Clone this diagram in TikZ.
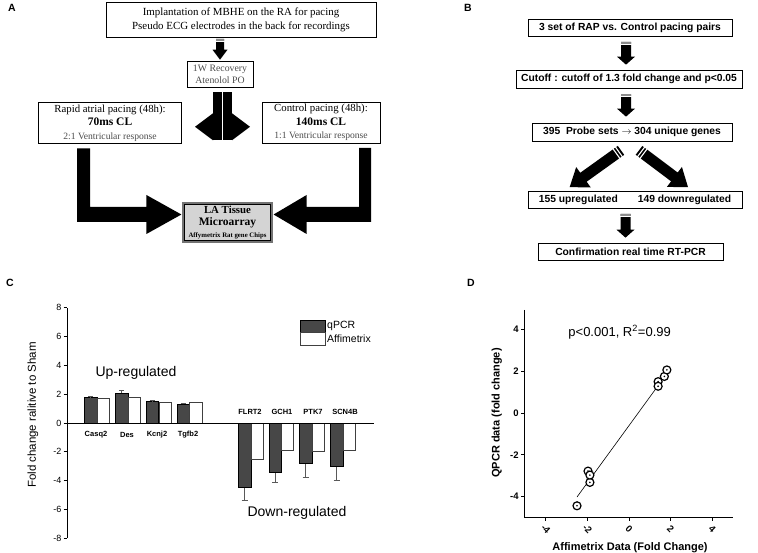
\documentclass[tikz,border=0pt]{standalone}
\usepackage{fontspec}
\setmainfont{Liberation Serif}
\setsansfont{Liberation Sans}
\usetikzlibrary{calc}
\newcommand{\blkarrow}[6]{%
  \coordinate (bk-b) at ($(#2)!#5!(#1)$);
  \coordinate (bk-s) at ($(#1)!2.6pt!(#2)$);
  \coordinate (bk-r) at ($(#1)!5.6pt!(#2)$);
  \fill ($(#1)!#3!90:(#2)$) -- ($(bk-b)!#3!90:(#2)$) -- ($(bk-b)!#4!90:(#2)$) -- (#2) -- ($(bk-b)!#4!-90:(#2)$) -- ($(bk-b)!#3!-90:(#2)$) -- ($(#1)!#3!-90:(#2)$) -- cycle;
  \ifnum#6=1
    \fill[black!45] ($(#1)!#3!90:(#2)$) -- ($(bk-s)!#3!90:(#2)$) -- ($(bk-s)!#3!-90:(#2)$) -- ($(#1)!#3!-90:(#2)$) -- cycle;
    \draw[white, line width=1pt] ($(bk-s)!#3+1pt!90:(#2)$) -- ($(bk-s)!#3+1pt!-90:(#2)$);
  \else
    \draw[white, line width=1.1pt] ($(bk-s)!#3+1pt!90:(#2)$) -- ($(bk-s)!#3+1pt!-90:(#2)$);
    \draw[white, line width=1.1pt] ($(bk-r)!#3+1pt!90:(#2)$) -- ($(bk-r)!#3+1pt!-90:(#2)$);
  \fi
}
\begin{document}
\begin{tikzpicture}[x=1pt,y=-1pt,
  abox/.style={draw, line width=0.6pt, fill=white, align=center, inner sep=0pt, font=\fontsize{10.9}{13.5}\selectfont},
  bbox/.style={draw, line width=0.7pt, align=center, inner sep=0pt, font=\sffamily\bfseries\fontsize{10.3}{12}\selectfont},
  plbl/.style={font=\sffamily\bfseries\fontsize{10.5}{12}\selectfont},
  qbar/.style={fill=black!72, draw=black, line width=0.5pt},
  abar/.style={fill=white, draw=black!75, line width=0.7pt},
  errb/.style={draw=black!65, line width=0.6pt},
  ctick/.style={font=\sffamily\fontsize{9}{10}\selectfont, inner sep=1pt},
  gene/.style={font=\sffamily\bfseries\fontsize{7.5}{9}\selectfont, inner sep=0pt},
  dtick/.style={font=\sffamily\bfseries\fontsize{9.5}{11}\selectfont, inner sep=0pt},
  dpt/.style={circle, draw, fill=white, line width=1.2pt, minimum size=8pt, inner sep=0pt}]
\useasboundingbox (0,0) rectangle (758,553);
\fill[white] (0,0) rectangle (758,553);

% ---------------- Panel A ----------------
\node[plbl] (lA) at (12,8) {A};
\node[abox, minimum width=270pt, minimum height=35pt] (top) at (241,20)
  {Implantation of MBHE on the RA for pacing\\Pseudo ECG electrodes in the back for recordings};
\node[abox, minimum width=66pt, minimum height=26pt, text=black!70, font=\fontsize{9.8}{12}\selectfont] (rec) at (220,74)
  {1W Recovery\\Atenolol PO};
\coordinate (a1h) at ($(rec.north)+(0,-1)$);
\coordinate (a1t) at ($(a1h |- top.south)+(0,1)$);
\blkarrow{a1t}{a1h}{4pt}{7.5pt}{10pt}{1}

\coordinate (sp) at ($(rec.south)+(0,5)$);
\fill ($(sp)+(-7,0)$) rectangle ($(sp)+(2,48)$);
\fill ($(sp)+(3,0)$) rectangle ($(sp)+(12,48)$);
\fill ($(sp)+(-7,21)$) -- ($(sp)+(-7,48)$) -- ($(sp)+(-25,34.5)$) -- cycle;
\fill ($(sp)+(12,21)$) -- ($(sp)+(12,48)$) -- ($(sp)+(30,34.5)$) -- cycle;

\node[abox, minimum width=143pt, minimum height=41pt] (rap) at (110,123)
  {\fontsize{10.8}{12}\selectfont Rapid atrial pacing (48h):\\
   \fontsize{11.5}{13}\selectfont\bfseries 70ms CL\\
   \fontsize{9.6}{11.5}\selectfont\mdseries\color{black!70}2:1 Ventricular response};
\node[abox, minimum width=118pt, minimum height=41pt] (ctl) at (321,122.5)
  {\fontsize{10.8}{12}\selectfont Control pacing (48h):\\
   \fontsize{11.5}{13}\selectfont\bfseries 140ms CL\\
   \fontsize{9.6}{11.5}\selectfont\mdseries\color{black!70}1:1 Ventricular response};

\node[draw=black!55, line width=1.2pt, fill=black!17, minimum width=89pt, minimum height=39pt, align=center, inner sep=0pt] (la) at (227.5,222.5)
  {\fontsize{10.8}{12}\selectfont\bfseries LA Tissue\\
   \fontsize{11.5}{13}\selectfont\bfseries Microarray\\
   \fontsize{6.8}{8}\selectfont\bfseries Affymetrix Rat gene Chips};
\draw[line width=0.6pt] ($(la.north west)+(2,2)$) rectangle ($(la.south east)+(-2,-2)$);

\coordinate (Ls) at ($(rap.south)+(-26.5,4.5)$);
\coordinate (Lt) at ($(la.west)+(-1,-8)$);
\fill let \p1=(Ls), \p2=(Lt) in
  (\x1-6.5pt,\y1) -- (\x1+6.5pt,\y1) -- (\x1+6.5pt,\y2+7.5pt) -- (\x2-35pt,\y2+7.5pt) -- (\x2-35pt,\y2+19.5pt)
  -- (\x2,\y2) -- (\x2-35pt,\y2-19.5pt) -- (\x2-35pt,\y2-7.5pt) -- (\x1-6.5pt,\y2-7.5pt) -- cycle;
\coordinate (Rs) at ($(ctl.south)+(44,4.5)$);
\coordinate (Rt) at ($(la.east)+(1,-8)$);
\fill let \p1=(Rs), \p2=(Rt) in
  (\x1+6pt,\y1) -- (\x1-6pt,\y1) -- (\x1-6pt,\y2+7.5pt) -- (\x2+33pt,\y2+7.5pt) -- (\x2+33pt,\y2+19.5pt)
  -- (\x2,\y2) -- (\x2+33pt,\y2-19.5pt) -- (\x2+33pt,\y2-7.5pt) -- (\x1+6pt,\y2-7.5pt) -- cycle;

% ---------------- Panel B ----------------
\node[plbl] (lB) at (468,8) {B};
\node[bbox, minimum width=204pt, minimum height=17pt] (b1) at (630,28) {3 set of RAP vs. Control pacing pairs};
\node[bbox, minimum width=226pt, minimum height=18pt] (b2) at (629,79) {Cutoff : cutoff of 1.3 fold change and p<0.05};
\node[bbox, minimum width=200pt, minimum height=18pt] (b3) at (632,132) {395\ \ Probe sets $\rightarrow$ 304 unique genes};
\node[bbox, minimum width=214pt, minimum height=17pt] (b4) at (635,200) {155 upregulated\hspace{20pt}149 downregulated};
\node[bbox, minimum width=185pt, minimum height=17pt] (b5) at (630.5,251.5) {Confirmation real time RT-PCR};

\coordinate (a2t) at ($(b1.south)+(-4,5)$);
\coordinate (a2h) at ($(a2t |- b2.north)+(0,-5)$);
\blkarrow{a2t}{a2h}{5pt}{9pt}{8pt}{1}
\coordinate (a3t) at ($(b2.south)+(-3,6)$);
\coordinate (a3h) at ($(a3t |- b3.north)+(0,-6)$);
\blkarrow{a3t}{a3h}{5pt}{9pt}{8pt}{1}
\coordinate (d1t) at ($(b3.south)+(-11,9)$);
\coordinate (d1h) at ($(b4.north west)+(42,-4)$);
\blkarrow{d1t}{d1h}{5.5pt}{12.5pt}{17pt}{2}
\coordinate (d2t) at ($(b3.south)+(7,9)$);
\coordinate (d2h) at ($(b4.north)+(53,-4)$);
\blkarrow{d2t}{d2h}{5.5pt}{12.5pt}{17pt}{2}
\coordinate (a4t) at ($(b4.south)+(-9.5,5)$);
\coordinate (a4h) at ($(a4t |- b5.north)+(0,-5)$);
\blkarrow{a4t}{a4h}{5pt}{9pt}{8pt}{1}

% ---------------- Panel C ----------------
\node[plbl] (lC) at (10,283) {C};
\begin{scope}[shift={(0,423)}, yscale=-14.4]
  \draw[line width=0.8pt] (67,-8) -- (67,8);
  \foreach \v in {-8,-6,...,8} {
    \draw[line width=0.8pt] (63.5,\v) -- (67,\v);
    \node[ctick, anchor=east] at (62.5,\v) {\v};
  }
  % up-regulated
  \draw[qbar] (84,0) rectangle (97,1.78); \draw[abar] (97,0) rectangle (109,1.7);
  \draw[errb] (90.5,1.78) -- (90.5,1.83) (88,1.83) -- (93,1.83);
  \draw[qbar] (115,0) rectangle (128,2.05); \draw[abar] (128,0) rectangle (140,1.8);
  \draw[errb] (121.5,2.05) -- (121.5,2.27) (119,2.27) -- (124,2.27);
  \draw[qbar] (146,0) rectangle (158,1.5); \draw[abar] (159,0) rectangle (171,1.42);
  \draw[errb] (152,1.5) -- (152,1.56) (149.5,1.56) -- (154.5,1.56);
  \draw[qbar] (177,0) rectangle (189,1.3); \draw[abar] (189,0) rectangle (202,1.42);
  \draw[errb] (183,1.3) -- (183,1.36) (180.5,1.36) -- (185.5,1.36);
  % down-regulated
  \draw[errb] (244.5,-4.44) -- (244.5,-5.35) (241.5,-5.35) -- (247.5,-5.35);
  \draw[qbar] (238,0) rectangle (251,-4.44); \draw[abar] (251,0) rectangle (263,-2.5);
  \draw[errb] (275,-3.4) -- (275,-4.1) (272,-4.1) -- (278,-4.1);
  \draw[qbar] (269,0) rectangle (281,-3.4); \draw[abar] (281,0) rectangle (293,-1.9);
  \draw[errb] (305.5,-2.8) -- (305.5,-3.75) (302.5,-3.75) -- (308.5,-3.75);
  \draw[qbar] (299,0) rectangle (312,-2.8); \draw[abar] (312,0) rectangle (324,-2.0);
  \draw[errb] (336.5,-3.0) -- (336.5,-3.95) (333.5,-3.95) -- (339.5,-3.95);
  \draw[qbar] (330,0) rectangle (343,-3.0); \draw[abar] (343,0) rectangle (355,-1.9);
  \draw[line width=0.8pt] (67,0) -- (374,0);
  % gene labels
  \node[gene] (gCasq) at (96,-0.83) {Casq2};
  \node[gene] (gDes) at (127,-0.83) {Des};
  \node[gene] (gKcnj) at (157,-0.83) {Kcnj2};
  \node[gene] (gTgfb) at (188,-0.83) {Tgfb2};
  \node[gene] (gFlrt) at (250,0.77) {FLRT2};
  \node[gene] (gGch) at (282,0.77) {GCH1};
  \node[gene] (gPtk) at (313,0.77) {PTK7};
  \node[gene] (gScn) at (345,0.77) {SCN4B};
  \node[font=\sffamily\fontsize{14}{16}\selectfont] (up) at (136,3.5) {Up-regulated};
  \node[font=\sffamily\fontsize{14}{16}\selectfont] (down) at (297,-6.25) {Down-regulated};
  \node[font=\sffamily\fontsize{11.5}{13}\selectfont, rotate=90] (ylab) at (33,0.55) {Fold change ralitive to Sham};
  % legend
  \draw[qbar] (300,7.15) rectangle (325,6.32);
  \draw[abar] (300,6.32) rectangle (325,5.42);
  \node[font=\sffamily\fontsize{10.5}{12}\selectfont, anchor=west, inner sep=1pt] (lq) at (326,6.76) {qPCR};
  \node[font=\sffamily\fontsize{10.5}{12}\selectfont, anchor=west, inner sep=1pt] (lf) at (326,5.86) {Affimetrix};
\end{scope}

% ---------------- Panel D ----------------
\node[plbl] (lD) at (471,283) {D};
\begin{scope}[shift={(629,413)}, xscale=20.8, yscale=-20.9]
  \draw[line width=0.8pt] (-5.05,4.93) -- (-5.05,-5) -- (5,-5);
  \foreach \v in {-4,-2,0,2,4} {
    \draw[line width=0.8pt] (-5.05,\v) -- (-5.2,\v);
    \node[dtick, anchor=east] at (-5.3,\v) {\v};
  }
  \foreach \u in {-4,-2,0,2,4} {
    \draw[line width=0.8pt] (\u,-5) -- (\u,-5.15);
    \node[dtick, rotate=-45] at (\u,-5.55) {\u};
  }
  \draw[line width=0.6pt] (-2.5,-4.02) -- (1.37,1.27);
  \coordinate (p1) at (1.7,1.75);
  \coordinate (p2) at (1.82,2.06);
  \coordinate (p3) at (1.4,1.5);
  \coordinate (p4) at (1.4,1.28);
  \coordinate (p5) at (-2.5,-4.44);
  \coordinate (p6) at (-1.88,-3.32);
  \coordinate (p7) at (-1.97,-2.78);
  \coordinate (p8) at (-1.88,-2.97);
  \node[font=\sffamily\fontsize{13}{15}\selectfont] (stat) at (-0.45,3.87) {p<0.001, R\textsuperscript{2}=0.99};
  \node[font=\sffamily\bfseries\fontsize{11}{13}\selectfont, rotate=90] (dy) at (-6.35,0) {QPCR data (fold change)};
  \node[font=\sffamily\bfseries\fontsize{11}{13}\selectfont] (dx) at (0.05,-6.45) {Affimetrix Data (Fold Change)};
\end{scope}
\foreach \p in {p1,p2,p3,p4,p5,p6,p7,p8} {
  \node[dpt] at (\p) {};
  \fill (\p) circle (0.9);
}
\end{tikzpicture}
\end{document}
